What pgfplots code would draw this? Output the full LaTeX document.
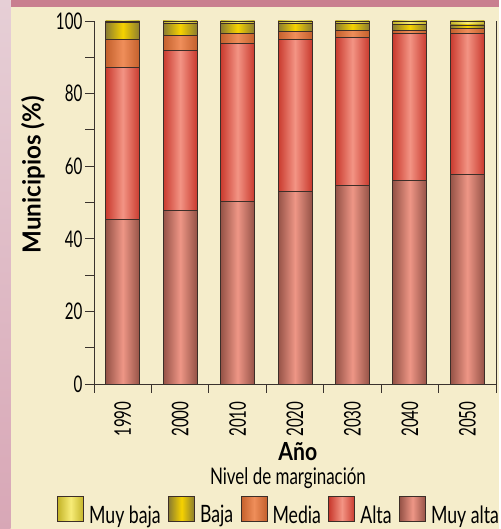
\documentclass[border=0pt]{standalone}
\usepackage{fontspec}
\setmainfont{Lato}[FakeStretch=0.74]
\newfontfamily\tickfont{Lato}[FakeStretch=0.66]
\newfontfamily\labfont{Lato Bold}[FakeStretch=0.85]
\newfontfamily\ylabfont{Lato Bold}[FakeStretch=0.97]
\usepackage{pgfplots}
\usepackage{pgfplotstable}
\pgfplotsset{compat=1.18}
\definecolor{bg}{HTML}{F5EDCB}
\definecolor{stripTop}{HTML}{E6CFD6}
\definecolor{stripBot}{HTML}{D8A7B6}
\definecolor{band}{HTML}{C97F8F}
\definecolor{axisc}{HTML}{3A332E}
\definecolor{edge}{HTML}{3C2E28}
\definecolor{maE}{HTML}{955246}\definecolor{maM}{HTML}{EE9686}
\definecolor{alE}{HTML}{C93A2E}\definecolor{alM}{HTML}{F39484}
\definecolor{meE}{HTML}{C4602C}\definecolor{meM}{HTML}{EF8E5A}
\definecolor{baE}{HTML}{8A7C30}\definecolor{baM}{HTML}{F6D200}
\definecolor{mbE}{HTML}{C4B428}\definecolor{mbM}{HTML}{F7EC78}
\pgfplotstableread{
x MuyAlta Alta Media Baja MuyBaja
0 45.4 41.8 7.8 4.6 0.4
1 47.8 44.2 4.1 3.3 0.6
2 50.4 43.5 2.7 2.8 0.6
3 53.0 41.9 2.1 2.4 0.6
4 54.6 40.9 2.0 1.9 0.6
5 56.1 40.5 0.9 1.6 0.9
6 57.8 38.8 1.4 0.9 1.1
}\datatab
\pgfplotsset{
  segbar/.style={draw=edge, line width=0.9bp, bar width=34bp, bar shift=0pt},
  mbst/.style={segbar, left color=mbE, right color=mbE, middle color=mbM},
  bast/.style={segbar, left color=baE, right color=baE, middle color=baM},
  mest/.style={segbar, left color=meE, right color=meE, middle color=meM},
  alst/.style={segbar, left color=alE, right color=alE, middle color=alM},
  mast/.style={segbar, left color=maE, right color=maE, middle color=maM},
}
\begin{document}
\begin{tikzpicture}[x=1bp,y=1bp]
\fill[bg] (0,0) rectangle (499,529);
\shade[top color=stripTop, bottom color=stripBot] (0,0) rectangle (10.5,529);
\fill[band] (10.5,521.5) rectangle (499,529);
\begin{axis}[
  at={(94bp,145bp)}, anchor=south west, scale only axis,
  width=402bp, height=363bp,
  ybar, bar width=34bp,
  xmin=-0.5, xmax=6.5, ymin=0, ymax=100,
  axis x line*=bottom, axis y line*=left,
  axis line style={axisc, line width=0.9bp},
  every tick/.style={axisc, line width=0.9bp},
  tick align=outside,
  xtick={0,...,6},
  xticklabels={1990,2000,2010,2020,2030,2040,2050},
  major x tick style={draw=none},
  minor xtick={-0.5,0.5,...,6.5},
  minor x tick style={axisc},
  ytick={0,20,...,100},
  minor ytick={10,30,...,90},
  major tick length=9bp, minor tick length=9bp,
  /pgf/number format/assume math mode=true,
  ticklabel style={font=\tickfont\fontsize{23}{26}\selectfont, text=black},
  yticklabel style={inner sep=2.5bp},
  xticklabel style={rotate=90, anchor=east},
  xticklabel shift=5bp,
  xlabel={Año},
  ylabel={Municipios (\%)},
  every axis x label/.style={at={(axis description cs:0.507,-0.187)}, anchor=center, font=\labfont\fontsize{25}{28}\selectfont},
  every axis y label/.style={at={(axis description cs:-0.152,0.576)}, anchor=center, rotate=90, font=\ylabfont\fontsize{25}{28}\selectfont},
  legend columns=-1,
  legend style={draw=none, fill=none, at={(axis description cs:-0.092,-0.35)}, anchor=west,
    inner sep=0pt, font=\fontsize{24}{26}\selectfont,
    /tikz/every odd column/.append style={column sep=3bp},
    /tikz/every even column/.append style={column sep=5.5bp}},
  legend image code/.code={\draw[#1] (0bp,-6bp) rectangle (26bp,19bp);},
  after end axis/.code={\draw[axisc, line width=0.9bp] (rel axis cs:1,0) -- (rel axis cs:1,1);},
]
\pgfplotsinvokeforeach{0,...,6}{
\addplot[mbst, restrict expr to domain={\coordindex}{#1:#1}] table[x=x, y expr=\thisrow{MuyAlta}+\thisrow{Alta}+\thisrow{Media}+\thisrow{Baja}+\thisrow{MuyBaja}]{\datatab};
\addplot[bast, restrict expr to domain={\coordindex}{#1:#1}] table[x=x, y expr=\thisrow{MuyAlta}+\thisrow{Alta}+\thisrow{Media}+\thisrow{Baja}]{\datatab};
\addplot[mest, restrict expr to domain={\coordindex}{#1:#1}] table[x=x, y expr=\thisrow{MuyAlta}+\thisrow{Alta}+\thisrow{Media}]{\datatab};
\addplot[alst, restrict expr to domain={\coordindex}{#1:#1}] table[x=x, y expr=\thisrow{MuyAlta}+\thisrow{Alta}]{\datatab};
\addplot[mast, restrict expr to domain={\coordindex}{#1:#1}] table[x=x, y=MuyAlta]{\datatab};
}
\legend{Muy baja,Baja,Media,Alta,Muy alta}
\end{axis}
\node[font=\fontsize{23}{26}\selectfont] at (288,51) {Nivel de marginación};
\end{tikzpicture}
\end{document}
